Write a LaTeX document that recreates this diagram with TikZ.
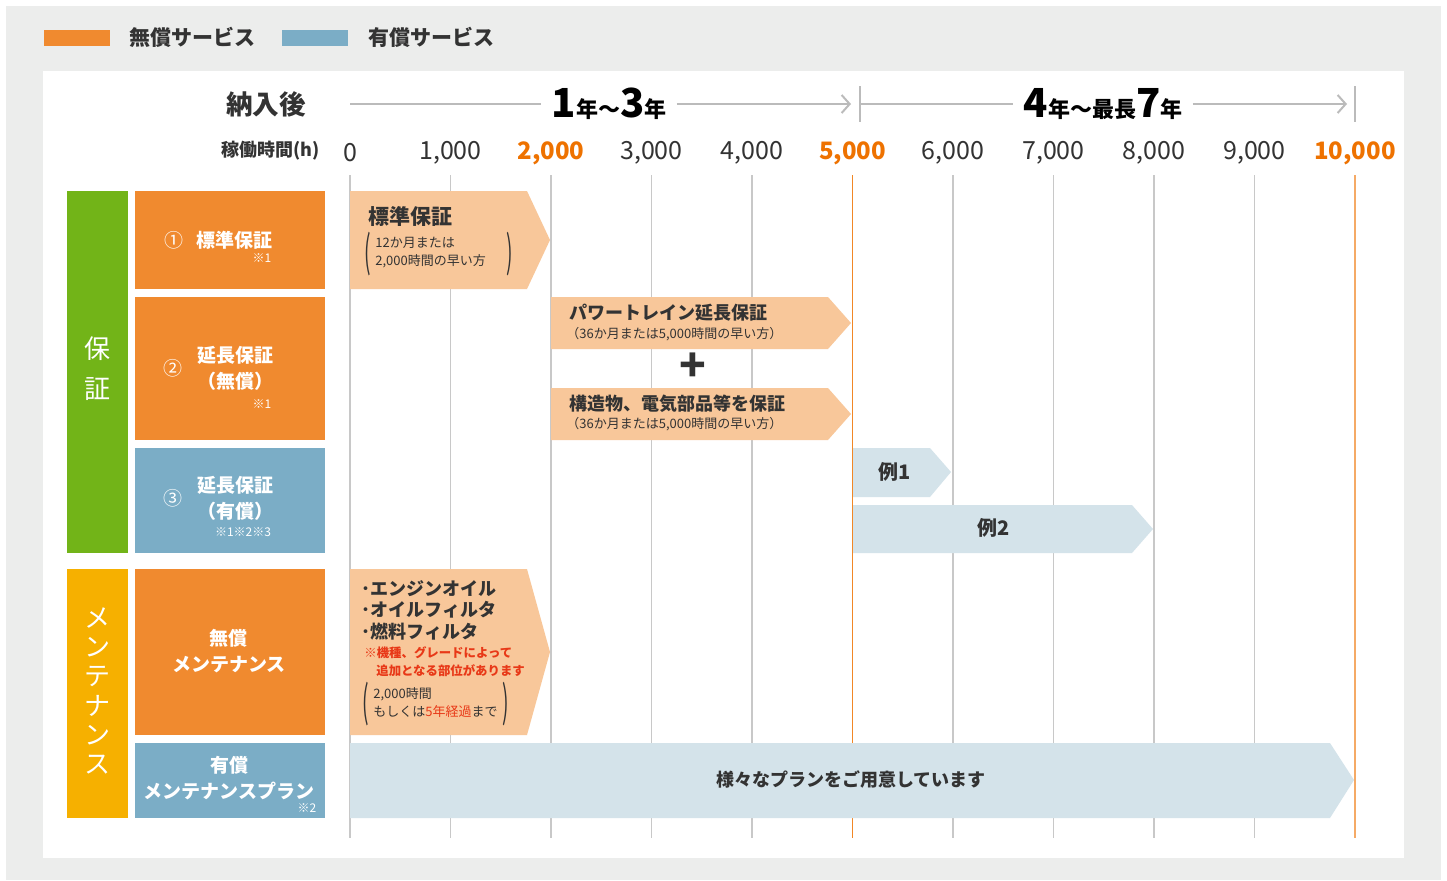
\documentclass[tikz,border=0pt]{standalone}
\usepackage{fontspec}
\setmainfont{Noto Sans CJK JP}
\usetikzlibrary{arrows.meta}
\definecolor{bggray}{HTML}{ECEDEC}
\definecolor{freeorange}{HTML}{F08A2F}
\definecolor{paidblue}{HTML}{7BADC6}
\definecolor{freelight}{HTML}{F8C79A}
\definecolor{paidlight}{HTML}{D4E3EA}
\definecolor{warrgreen}{HTML}{72B418}
\definecolor{mntyellow}{HTML}{F6B000}
\definecolor{darktext}{HTML}{333333}
\definecolor{hotorange}{HTML}{EE7200}
\definecolor{notered}{HTML}{E83817}
\definecolor{gridgray}{HTML}{C8C8C8}
\definecolor{yeargray}{HTML}{BBBBBB}
\newcommand\setfs[2]{\fontsize{#1}{#2}\selectfont}
\newcommand\yrnum[1]{{\setfs{20}{20}#1}}
\tikzset{%
  legendlbl/.style={anchor=west,inner sep=0,text=darktext,font=\bfseries\setfs{10.5}{12}},
  headlbl/.style={inner sep=0,text=darktext,font=\bfseries\setfs{13.3}{15}},
  hourlbl/.style={inner sep=0,text=darktext,font=\bfseries\setfs{9}{10}},
  numplain/.style={inner sep=0,text=darktext,font=\setfs{12.5}{14}},
  numhot/.style={inner sep=0,text=hotorange,font=\bfseries\setfs{12}{14}},
  yearlbl/.style={inner sep=5pt,text=black,font=\bfseries\setfs{11}{12}},
  yearline/.style={draw=yeargray,line width=1pt},
  gridline/.style={draw=gridgray,line width=0.6pt},
  hotline/.style={draw=hotorange!85,line width=0.6pt},
  sidelbl/.style={inner sep=0,text=white,align=center,font=\setfs{13}{#1}},
  catlbl/.style={inner sep=0,text=white,align=center,font=\bfseries\setfs{9.5}{13}},
  circnum/.style={inner sep=0,text=white,font=\setfs{9.5}{11}},
  catnote/.style={inner sep=0,text=white,font=\setfs{6}{7}},
  freebar/.style={fill=freelight},
  paidbar/.style={fill=paidlight},
  bartitle/.style={anchor=west,inner sep=0,text=darktext,font=\bfseries\setfs{#1}{12}},
  barsub/.style={anchor=west,inner sep=0,text=darktext,align=left,font=\setfs{6.5}{9}},
  paren/.style={inner sep=0,text=darktext,font=\setfs{12}{12}}
}
\begin{document}
\begin{tikzpicture}[x=0.5pt,y=-0.5pt]
  \useasboundingbox (0,0) rectangle (1447,880);
  \fill[bggray] (6,6) rectangle (1441,880);
  \fill[white] (43,71) rectangle (1404,858);
  % legend
  \fill[freeorange] (44,30) rectangle (110,46);
  \node[legendlbl] (freelg) at (129,37) {無償サービス};
  \fill[paidblue] (282,30) rectangle (348,46);
  \node[legendlbl] (paidlg) at (368,37) {有償サービス};
  % header
  \node[headlbl] (after) at (266,104) {納入後};
  \node[hourlbl,anchor=east] (hours) at (320,151) {稼働時間(h)};
  \foreach \k/\v/\s in {0/0/numplain,1/{1,000}/numplain,2/{2,000}/numhot,
      3/{3,000}/numplain,4/{4,000}/numplain,5/{5,000}/numhot,6/{6,000}/numplain,
      7/{7,000}/numplain,8/{8,000}/numplain,9/{9,000}/numplain,10/{10,000}/numhot}
  {
    \node[\s] (h\k) at (350+100.5*\k,153) {\v};
    \draw[gridline] (350+100.5*\k,175) -- (350+100.5*\k,838);
  }
  \draw[hotline] (852.5,175) -- (852.5,838);
  \draw[hotline,draw=hotorange!60] (1355,175) -- (1355,838);
  % year spans
  \coordinate (yrA) at (350,104);
  \coordinate (yrB) at (851,104);
  \coordinate (yrC) at (860,104);
  \coordinate (yrD) at (1347,104);
  \node[yearlbl] (yr1) at (609,104) {\yrnum{1}年～\yrnum{3}年};
  \node[yearlbl] (yr2) at (1103,104) {\yrnum{4}年～最長\yrnum{7}年};
  \draw[yearline] (yrA) -- (yr1.west);
  \draw[yearline,-{Straight Barb[length=4pt,width=9pt]}] (yr1.east) -- (yrB);
  \draw[yearline] (yrC) -- (yr2.west);
  \draw[yearline,-{Straight Barb[length=4pt,width=9pt]}] (yr2.east) -- (yrD);
  \draw[yearline] (860,86) -- (860,122);
  \draw[yearline] (1355,86) -- (1355,122);
  % side blocks
  \fill[warrgreen] (67,191) rectangle (128,553);
  \node[sidelbl=20pt] (warr) at (97,369) {保\\証};
  \fill[mntyellow] (67,569) rectangle (128,818);
  \node[sidelbl=14.6pt] (mnt) at (97,691) {メ\\ン\\テ\\ナ\\ン\\ス};
  % category boxes
  \fill[freeorange] (135,191) rectangle (325,289);
  \node[circnum] (c1) at (174,240) {①};
  \node[catlbl] (std) at (234,240) {標準保証};
  \node[catnote] (std n) at (262,258) {※1};
  \fill[freeorange] (135,297) rectangle (325,440);
  \node[circnum] (c2) at (173,368) {②};
  \node[catlbl] (extfree) at (235,368) {延長保証\\（無償）};
  \node[catnote] (extfree n) at (262,404) {※1};
  \fill[paidblue] (135,448) rectangle (325,553);
  \node[circnum] (c3) at (173,498) {③};
  \node[catlbl] (extpaid) at (235,498) {延長保証\\（有償）};
  \node[catnote] (extpaid n) at (243,532) {※1※2※3};
  \fill[freeorange] (135,569) rectangle (325,735);
  \node[catlbl] (mntfree) at (229,651) {無償\\メンテナンス};
  \fill[paidblue] (135,743) rectangle (325,818);
  \node[catlbl] (mntpaid) at (229,778) {有償\\メンテナンスプラン};
  \node[catnote] (mntpaid n) at (307,808) {※2};
  % bars
  \fill[freebar] (350,191) -- (527,191) -- (550,240) -- (527,289) -- (350,289) -- cycle;
  \node[bartitle=10.5] (stdbar) at (368,216) {標準保証};
  \node[barsub] (stdsub) at (375,253) {12か月または\\2,000時間の早い方};
  \node[paren] (stdl) at (368,254) {\scalebox{0.8}[1.8]{(}};
  \node[paren] (stdr) at (510,254) {\scalebox{0.8}[1.8]{)}};
  \fill[freebar] (551,297) -- (828,297) -- (851,323) -- (828,349) -- (551,349) -- cycle;
  \node[bartitle=9] (ptbar) at (569,313) {パワートレイン延長保証};
  \node[barsub] (ptsub) at (566,334) {（36か月または5,000時間の早い方）};
  \node[inner sep=0,text=darktext,font=\bfseries\setfs{22}{22}] (plus) at (693,367) {+};
  \fill[freebar] (551,388) -- (828,388) -- (851,414) -- (828,440) -- (551,440) -- cycle;
  \node[bartitle=9] (stbar) at (569,404) {構造物、電気部品等を保証};
  \node[barsub] (stsub) at (566,424) {（36か月または5,000時間の早い方）};
  \fill[paidbar] (853,448) -- (930,448) -- (951,472) -- (930,497) -- (853,497) -- cycle;
  \node[bartitle=10,anchor=center] (ex1) at (895,472) {例1};
  \fill[paidbar] (853,505) -- (1132,505) -- (1153,529) -- (1132,553) -- (853,553) -- cycle;
  \node[bartitle=10,anchor=center] (ex2) at (994,528) {例2};
  \fill[freebar] (350,569) -- (527,569) -- (550,652) -- (527,735) -- (350,735) -- cycle;
  \node[barsub,font=\bfseries\setfs{9}{10.8}] (mntitems) at (361,610) {･エンジンオイル\\･オイルフィルタ\\･燃料フィルタ};
  \node[barsub,text=notered,font=\bfseries\setfs{6.2}{9}] (mntnote) at (364,662) {※機種、グレードによって\\\hspace*{6pt}追加となる部位があります};
  \node[barsub] (mntsub) at (373,703) {2,000時間\\もしくは\textcolor{notered}{5年経過}まで};
  \node[paren] (mntl) at (366,704) {\scalebox{0.8}[1.8]{(}};
  \node[paren] (mntr) at (506,704) {\scalebox{0.8}[1.8]{)}};
  \fill[paidbar] (350,743) -- (1330,743) -- (1354,780) -- (1330,818) -- (350,818) -- cycle;
  \node[bartitle=9,anchor=center] (plans) at (851,779) {様々なプランをご用意しています};
\end{tikzpicture}
\end{document}
